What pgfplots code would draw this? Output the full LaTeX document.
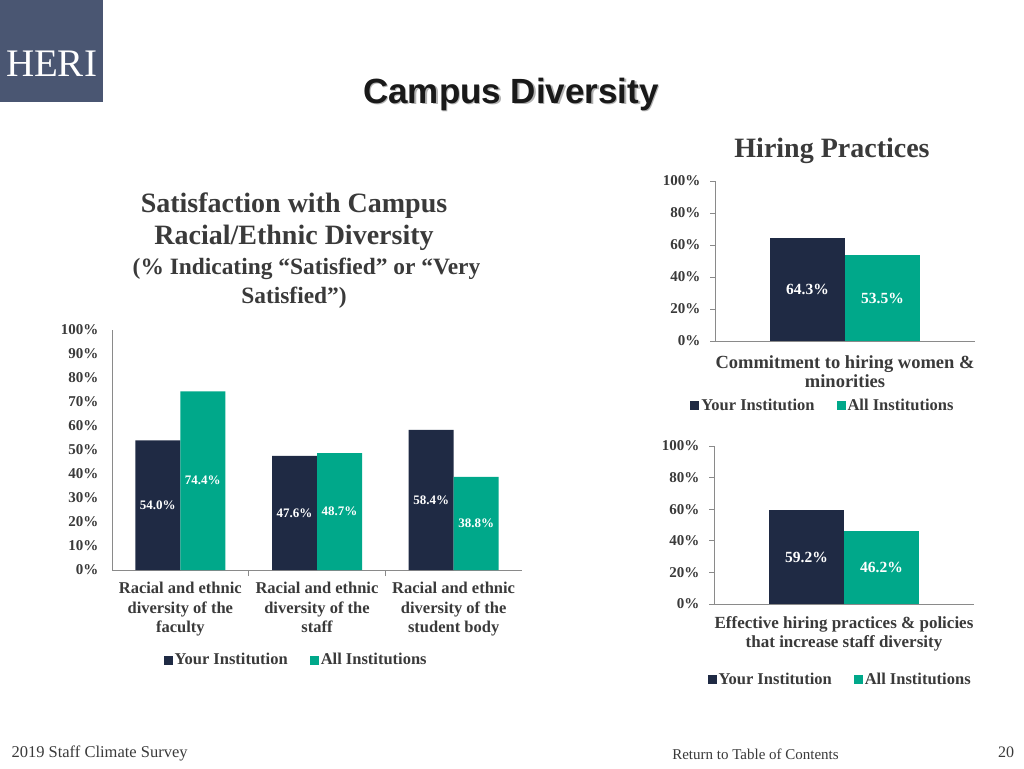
\documentclass[border=0pt]{standalone}
\usepackage{fontspec}
\setmainfont{Liberation Serif}
\newfontfamily\sansf{Liberation Sans}
\usepackage{pgfplots}
\pgfplotsset{compat=1.18}
\definecolor{navy}{HTML}{1F2A44}
\definecolor{tealc}{HTML}{00A88A}
\definecolor{logo}{HTML}{4A5672}
\definecolor{txt}{HTML}{3A3A3A}
\definecolor{axgray}{HTML}{8A8A8A}

\pgfplotsset{
  hericommon/.style={
    scale only axis,
    ybar=0pt,
    axis lines*=left,
    axis line style={-, axgray, line width=0.9pt},
    ymin=0, ymax=100,
    tick align=outside,
    tick style={axgray, line width=0.9pt},
    /pgf/number format/assume math mode=true,
    yticklabel={\pgfmathprintnumber{\tick}\%},
    ticklabel style={font=\fontsize{15}{18}\selectfont\bfseries, text=txt},
    visualization depends on={y \as \rawy},
    nodes near coords={\pgfmathprintnumber[fixed,fixed zerofill,precision=1]{\pgfplotspointmeta}\%},
    every node near coord/.append style={anchor=center, text=white, shift={(axis direction cs:0,-\rawy/2)}},
    legend columns=2,
    legend image code/.code={\fill[##1,draw=none] (0pt,-4.5pt) rectangle (9pt,4.5pt);},
    legend style={draw=none, fill=none, font=\fontsize{16.5}{19}\selectfont\bfseries, text=txt, inner sep=0pt,
      /tikz/every even column/.append style={column sep=20pt}},
  }
}

\begin{document}
\begin{tikzpicture}[x=1pt,y=1pt]
\fill[white] (0,0) rectangle (1024,768);
% logo
\fill[logo] (0,666) rectangle (103,768);
\node[text=white, font=\fontsize{39}{42}\selectfont] at (51.5,704) {HERI};
% title
\node[text=gray!60, font=\sansf\bfseries\fontsize{35}{40}\selectfont] at (512.5,672.5) {Campus Diversity};
\node[text=black!90, font=\sansf\bfseries\fontsize{35}{40}\selectfont] at (511,674) {Campus Diversity};
% left title
\node[text=txt, font=\bfseries\fontsize{28}{32}\selectfont] at (294,562) {Satisfaction with Campus};
\node[text=txt, font=\bfseries\fontsize{28}{32}\selectfont] at (294,530) {Racial/Ethnic Diversity};
\node[text=txt, font=\bfseries\fontsize{23.4}{27}\selectfont] at (306.5,499) {(\% Indicating “Satisfied” or “Very};
\node[text=txt, font=\bfseries\fontsize{23.4}{27}\selectfont] at (294,470) {Satisfied”)};
% right title
\node[text=txt, font=\bfseries\fontsize{28}{32}\selectfont] at (832,617) {Hiring Practices};
% footer
\node[anchor=west, text=txt, font=\fontsize{16.5}{18}\selectfont] at (8,15) {2019 Staff Climate Survey};
\node[text=txt, font=\fontsize{15}{17}\selectfont] at (755.5,14) {Return to Table of Contents};
\node[text=txt, font=\fontsize{16}{17}\selectfont] at (1006,16) {20};

% left chart
\begin{axis}[hericommon,
  width=410pt, height=240pt, at={(112pt,198pt)}, anchor=south west,
  bar width=45pt,
  xmin=-0.5, xmax=2.5,
  xtick={0,1,2},
  xticklabels={{Racial and ethnic\\diversity of the\\faculty},{Racial and ethnic\\diversity of the\\staff},{Racial and ethnic\\diversity of the\\student body}},
  xticklabel style={align=center, font=\fontsize{16.5}{19.5}\selectfont\bfseries, yshift=-9pt},
  yticklabel style={xshift=-10pt},
  minor xtick={0.5,1.5},
  major tick length=0pt, minor tick length=6pt,
  ytick={0,10,...,100},
  every node near coord/.append style={font=\fontsize{13}{15}\selectfont\bfseries},
  legend style={at={(0.449,-0.375)}, anchor=center},
]
\addplot[fill=navy, draw=none] coordinates {(0,54.0) (1,47.6) (2,58.4)};
\addplot[fill=tealc, draw=none] coordinates {(0,74.4) (1,48.7) (2,38.8)};
\legend{Your Institution, All Institutions}
\end{axis}

% right top chart
\begin{axis}[hericommon,
  width=260pt, height=160pt, at={(715pt,427pt)}, anchor=south west,
  bar width=75pt,
  xmin=-0.5, xmax=0.5,
  xtick={0},
  xticklabels={{Commitment to hiring women \&\\minorities}},
  xticklabel style={align=center, font=\fontsize{18.5}{19}\selectfont\bfseries, yshift=-6pt},
  yticklabel style={xshift=-6pt},
  xtick style={draw=none},
  major tick length=5pt,
  ytick={0,20,...,100},
  every node near coord/.append style={font=\fontsize{15.5}{17}\selectfont\bfseries},
  legend style={at={(0.415,-0.406)}, anchor=center},
]
\addplot[fill=navy, draw=none] coordinates {(0,64.3)};
\addplot[fill=tealc, draw=none] coordinates {(0,53.5)};
\legend{Your Institution, All Institutions}
\end{axis}

% right bottom chart
\begin{axis}[hericommon,
  width=260pt, height=158pt, at={(714pt,164pt)}, anchor=south west,
  bar width=75pt,
  xmin=-0.5, xmax=0.5,
  xtick={0},
  xticklabels={{Effective hiring practices \& policies\\that increase staff diversity}},
  xticklabel style={align=center, font=\fontsize{17}{19}\selectfont\bfseries, yshift=-4pt},
  yticklabel style={xshift=-6pt},
  xtick style={draw=none},
  major tick length=5pt,
  ytick={0,20,...,100},
  every node near coord/.append style={font=\fontsize{15.5}{17}\selectfont\bfseries},
  legend style={at={(0.485,-0.481)}, anchor=center},
]
\addplot[fill=navy, draw=none] coordinates {(0,59.2)};
\addplot[fill=tealc, draw=none] coordinates {(0,46.2)};
\legend{Your Institution, All Institutions}
\end{axis}
\end{tikzpicture}
\end{document}
